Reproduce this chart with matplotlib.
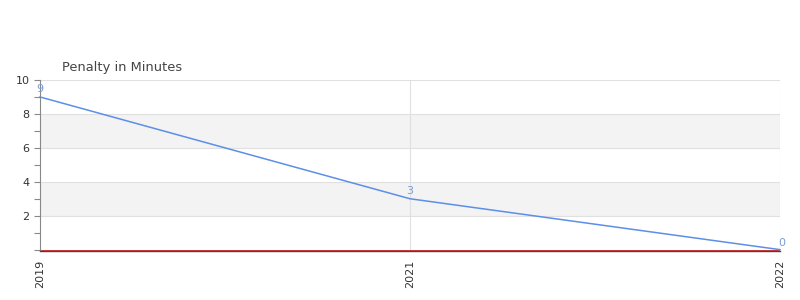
import matplotlib
matplotlib.use("Agg")
import matplotlib.pyplot as plt
from matplotlib.ticker import MultipleLocator

years = ["2019", "2021", "2022"]
penalty = [9, 3, 0]
title = "Penalty in Minutes"

fig = plt.figure(figsize=(8, 3), dpi=100)
ax = fig.add_axes([0.05, 1 - 251 / 300, 0.925, 171 / 300])

x = list(range(len(years)))
ax.set_xlim(0, len(years) - 1)
ax.set_ylim(-0.08, 10)

for lo in (2, 6):
    ax.axhspan(lo, lo + 2, color="#f3f3f3", zorder=0, lw=0)
for yv in (2, 4, 6, 8, 10):
    ax.axhline(yv, color="#e0e0e0", lw=0.8, zorder=1)
for xv in x[1:]:
    ax.axvline(xv, color="#e0e0e0", lw=0.8, zorder=1)

ax.axhline(0, color="#dd1111", lw=0.6, zorder=2)
ax.plot(x, penalty, color="#5b8fe8", lw=1.1, zorder=3, clip_on=False)

offsets = [(0, 2), (0, 2), (1, 1)]
for xi, v, off in zip(x, penalty, offsets):
    ax.annotate(str(v), (xi, v), xytext=off, textcoords="offset points",
                ha="center", va="bottom", fontsize=8, color="#7b9bd6")

ax.set_xticks(x)
ax.set_xticklabels(years, rotation=90, fontsize=8, color="#333333")
ax.set_yticks([2, 4, 6, 8, 10])
ax.set_yticklabels(["2", "4", "6", "8", "10"], fontsize=8, color="#333333")
ax.yaxis.set_minor_locator(MultipleLocator(1))
ax.tick_params(axis="y", which="both", length=4, color="#888888", width=0.8)
ax.tick_params(axis="x", length=0, pad=6)

for s in ("top", "right"):
    ax.spines[s].set_visible(False)
ax.spines["left"].set_color("#888888")
ax.spines["left"].set_linewidth(0.8)
ax.spines["bottom"].set_color("#444444")
ax.spines["bottom"].set_linewidth(1.0)

fig.text(62 / 800, 1 - 67 / 300, title, fontsize=9.4, color="#444444", va="center", ha="left")

fig.savefig("out.png", dpi=100)
